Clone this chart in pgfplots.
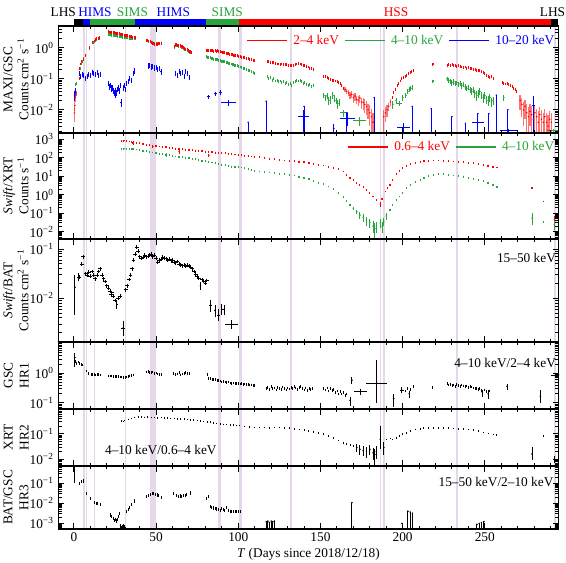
\documentclass[border=0pt]{standalone}
\usepackage{fontspec}
\setmainfont{Liberation Serif}
\usepackage{pgfplots}
\pgfplotsset{compat=1.18}
\definecolor{bandc}{RGB}{230,216,234}
\definecolor{cred}{RGB}{255,0,0}
\definecolor{cgreen}{RGB}{40,165,60}
\definecolor{cblue}{RGB}{0,0,255}
\newcommand{\bands}{%
\addplot[fill=bandc, draw=none, forget plot] coordinates {(5.3,1e-5)(5.3,1e5)(6.5,1e5)(6.5,1e-5)};
\addplot[fill=bandc, draw=none, forget plot] coordinates {(7.3,1e-5)(7.3,1e5)(8.1,1e5)(8.1,1e-5)};
\addplot[fill=bandc, draw=none, forget plot] coordinates {(12.1,1e-5)(12.1,1e5)(13,1e5)(13,1e-5)};
\addplot[fill=bandc, draw=none, forget plot] coordinates {(30.9,1e-5)(30.9,1e5)(31.7,1e5)(31.7,1e-5)};
\addplot[fill=bandc, draw=none, forget plot] coordinates {(46.5,1e-5)(46.5,1e5)(49.8,1e5)(49.8,1e-5)};
\addplot[fill=bandc, draw=none, forget plot] coordinates {(87.7,1e-5)(87.7,1e5)(89.3,1e5)(89.3,1e-5)};
\addplot[fill=bandc, draw=none, forget plot] coordinates {(100.3,1e-5)(100.3,1e5)(102,1e5)(102,1e-5)};
\addplot[fill=bandc, draw=none, forget plot] coordinates {(131.6,1e-5)(131.6,1e5)(132.8,1e5)(132.8,1e-5)};
\addplot[fill=bandc, draw=none, forget plot] coordinates {(186,1e-5)(186,1e5)(187,1e5)(187,1e-5)};
\addplot[fill=bandc, draw=none, forget plot] coordinates {(188,1e-5)(188,1e5)(189.2,1e5)(189.2,1e-5)};
\addplot[fill=bandc, draw=none, forget plot] coordinates {(232.4,1e-5)(232.4,1e5)(233.7,1e5)(233.7,1e-5)};
\addplot[fill=bandc, draw=none, forget plot] coordinates {(291.9,1e-5)(291.9,1e5)(293.1,1e5)(293.1,1e-5)};
}
\begin{document}
\begin{tikzpicture}
\path[use as bounding box] (0pt,0pt) rectangle (424.5pt,-421.5pt);

% ---------- state bar ----------
\begin{axis}[at={(43.725pt,-13.875pt)}, anchor=north west, scale only axis, width=375.3pt, height=5.625pt,
  xmin=-9.5, xmax=295, ymin=0, ymax=1, hide axis, clip=false]
\addplot[fill=black, draw=none] coordinates {(0,0)(0,1)(5.5,1)(5.5,0)};
\addplot[fill=cblue, draw=none] coordinates {(5.5,0)(5.5,1)(9.8,1)(9.8,0)};
\addplot[fill=cgreen, draw=none] coordinates {(9.8,0)(9.8,1)(37,1)(37,0)};
\addplot[fill=cblue, draw=none] coordinates {(37,0)(37,1)(80.5,1)(80.5,0)};
\addplot[fill=cgreen, draw=none] coordinates {(80.5,0)(80.5,1)(100.6,1)(100.6,0)};
\addplot[fill=cred, draw=none] coordinates {(100.6,0)(100.6,1)(290.4,1)(290.4,0)};
\addplot[fill=black, draw=none] coordinates {(290.4,0)(290.4,1)(294.4,1)(294.4,0)};
\node[anchor=base, inner sep=0pt] at (axis cs:-6.5,1.25) {LHS};
\node[anchor=base, inner sep=0pt, text=cblue] at (axis cs:12.8,1.25) {HIMS};
\node[anchor=base, inner sep=0pt, text=cgreen] at (axis cs:35.6,1.25) {SIMS};
\node[anchor=base, inner sep=0pt, text=cblue] at (axis cs:60.5,1.25) {HIMS};
\node[anchor=base, inner sep=0pt, text=cgreen] at (axis cs:93.3,1.25) {SIMS};
\node[anchor=base, inner sep=0pt, text=cred] at (axis cs:196,1.25) {HSS};
\node[anchor=base, inner sep=0pt] at (axis cs:291.2,1.25) {LHS};
\end{axis}

% ---------- Panel 1: MAXI/GSC ----------
\begin{axis}[at={(43.725pt,-19.5pt)}, anchor=north west, scale only axis, width=375.3pt, height=80.25pt,
  xmin=-9.5, xmax=295, ymode=log, ymin=1.8e-3, ymax=5,
  xtick={0,50,100,150,200,250},
  minor xtick={-10,10,20,30,40,60,70,80,90,110,120,130,140,160,170,180,190,210,220,230,240,260,270,280,290},
  xticklabels={}, tick align=inside, xtick pos=both, ytick pos=both,
  major tick length=4.5pt, minor tick length=2.5pt, axis line style={line width=0.9pt},
  every tick/.append style={black, line width=0.7pt}, axis on top,
  ylabel style={at={(axis description cs:-0.05,0.5)}, anchor=south, align=center},
  minor ytick={2e-4,3e-4,4e-4,5e-4,6e-4,7e-4,8e-4,9e-4,2e-3,3e-3,4e-3,5e-3,6e-3,7e-3,8e-3,9e-3,0.02,0.03,0.04,0.05,0.06,0.07,0.08,0.09,0.2,0.3,0.4,0.5,0.6,0.7,0.8,0.9,2,3,4,5,6,7,8,9},
  ytick={0.01,0.1,1},
  yticklabels={10\textsuperscript{−2},10\textsuperscript{−1},10\textsuperscript{0}},
  ylabel={MAXI/GSC\\Counts cm\textsuperscript{2} s\textsuperscript{−1}},
  legend style={draw=none, fill=none, at={(0.997,0.945)}, anchor=north east, inner sep=0pt, column sep=2pt},
  legend columns=3,
  legend image code/.code={\draw[#1] (0pt,0pt) -- (30pt,0pt);}]
\bands
\addlegendimage{draw=cred, line width=1.1pt}\addlegendentry{\textcolor{cred}{2--4 keV}}
\addlegendimage{draw=cgreen, line width=1.1pt}\addlegendentry{\textcolor{cgreen}{4--10 keV}}
\addlegendimage{draw=cblue, line width=1.1pt}\addlegendentry{\textcolor{cblue}{10--20 keV}}
% green 4-10 keV
\addplot[cgreen, only marks, mark=|, mark size=1.1pt, line width=0.5pt, forget plot] coordinates {(1.0,0.064)(1.5,0.07)(3.2,0.15)(3.7,0.22)(4.3,0.3)(5.0,0.36)(5.7,0.45)(7.2,0.58)(9.6,0.95)(11.6,1.45)(12.4,1.6)(13.1,1.75)(13.9,1.9)(14.7,2.0)(15.5,2.05)
(20.8,2.7)(21.5,2.65)(22.2,2.6)(23,2.55)(23.7,2.5)(24.5,2.45)(25.2,2.45)(26,2.4)(26.7,2.35)(27.5,2.3)(28.2,2.3)(29,2.25)(29.7,2.2)(30.5,2.2)(31.2,2.15)(32,2.1)(32.7,2.1)(33.5,2.05)(34.2,2.05)(35,2.0)(35.7,2.0)(36.5,2.0)(37.2,1.98)
(44,1.7)(44.8,1.65)(45.5,1.6)(46.3,1.55)(47,1.5)(47.8,1.45)(48.5,1.4)(49.2,1.38)(50,1.35)(50.7,1.35)(51.5,1.37)(52.2,1.38)(53,1.42)
(61,1.05)(61.7,1.15)(62.4,1.2)(63.1,1.15)(63.8,1.1)(64.5,1.12)(65.2,1.05)(66,1.0)(66.7,0.95)(67.4,0.9)(68.1,0.85)(68.8,0.8)(69.5,0.76)(70.2,0.72)(71,0.7)(71.7,0.68)
(80.5,0.51)(81.3,0.5)(82,0.48)(82.8,0.47)(83.5,0.46)(84.3,0.45)(85,0.43)(85.8,0.42)(86.5,0.42)(87.3,0.41)(88,0.4)(88.8,0.38)(89.5,0.37)(90.3,0.37)(91,0.36)(91.8,0.35)(92.5,0.34)(93.3,0.33)(94,0.32)(94.8,0.31)(95.5,0.3)(96.3,0.29)(97,0.28)(97.8,0.27)(98.5,0.27)(99.3,0.26)(100,0.25)(101,0.24)(102,0.23)(103,0.22)(104,0.21)(105,0.2)(106,0.19)(107,0.18)(108,0.17)(109,0.16)(110,0.15)
(117.5,0.12)(118.5,0.1)(119.5,0.11)(120.5,0.09)(121.5,0.1)(122.5,0.085)(123.5,0.09)(124.5,0.08)(125.5,0.085)(126.5,0.075)(127.5,0.08)(128.5,0.07)(129.5,0.075)(130.5,0.065)(131.5,0.07)(132.5,0.06)(133.5,0.075)(134.5,0.08)(135.5,0.09)(136.5,0.085)(137.5,0.09)(138.5,0.08)(139.5,0.07)(140.5,0.075)(141.5,0.065)(142.5,0.06)(143.5,0.065)(144.5,0.055)(145.5,0.06)
(218.4,0.08)(218.8,0.085)};
\addplot[cgreen, only marks, mark=*, mark size=0.3pt, forget plot, error bars/.cd, x dir=both, x explicit, y dir=both, y explicit, error mark=none, error bar style={line width=0.6pt}] table[x=x,y=y,x error=ex,y error plus=ep,y error minus=em] {
x y ex ep em
152 0.03 0.01 0.006 0.006
153 0.025 0.01 0.006 0.006
154 0.028 0.01 0.006 0.006
155 0.02 0.01 0.006 0.006
156 0.022 0.01 0.006 0.006
157.5 0.03 0.01 0.008 0.008
158.5 0.024 0.01 0.006 0.006
159.5 0.02 0.01 0.005 0.005
160.5 0.016 0.01 0.005 0.005
161.5 0.018 0.01 0.005 0.005
164 0.008 2 0.002 0.002
174 0.0045 4 0.0015 0.0015
194 0.015 0.01 0.004 0.004
196 0.02 0.01 0.004 0.004
198 0.016 1.5 0.003 0.003
200 0.025 0.01 0.005 0.005
202 0.03 0.01 0.006 0.006
203 0.04 0.01 0.008 0.008
204 0.045 0.01 0.008 0.008
205 0.05 0.01 0.008 0.008
206 0.055 0.01 0.01 0.01
227 0.1 0.01 0.015 0.015
228 0.09 0.01 0.015 0.015
229 0.085 0.01 0.015 0.015
230 0.075 0.01 0.015 0.015
231 0.08 0.01 0.015 0.015
232 0.07 0.01 0.012 0.012
233 0.075 0.01 0.012 0.012
234 0.065 0.01 0.012 0.012
235 0.07 0.01 0.012 0.012
236 0.06 0.01 0.012 0.012
237 0.065 0.01 0.012 0.012
238 0.055 0.01 0.012 0.012
239 0.05 0.01 0.01 0.01
240 0.055 0.01 0.01 0.01
241 0.045 0.01 0.01 0.01
242 0.04 0.01 0.01 0.01
243 0.045 0.01 0.01 0.01
244 0.035 0.01 0.01 0.01
245 0.03 0.01 0.01 0.01
246 0.035 0.01 0.01 0.01
247 0.04 0.01 0.01 0.01
248 0.03 0.01 0.008 0.008
249 0.025 0.01 0.008 0.008
250 0.03 0.01 0.008 0.008
251 0.022 0.01 0.007 0.007
252 0.02 0.01 0.007 0.007
253 0.025 0.01 0.007 0.007
254 0.018 0.01 0.006 0.006
255 0.02 0.01 0.006 0.006
261.5 0.025 0.01 0.005 0.005
292 0.0022 4 0.0003 0.0003
};
% red 2-4 keV
\addplot[cred, only marks, mark=|, mark size=1.1pt, line width=0.5pt, forget plot] coordinates {(3.0,0.1)(3.5,0.22)(4.2,0.3)(4.8,0.35)(5.5,0.42)(7.0,0.55)(9.5,1.0)(11.5,1.5)(12.3,1.65)(13.0,1.8)(13.8,1.95)(14.6,2.05)(15.4,2.15)
(20.8,3.25)(21.5,3.2)(22.2,3.15)(23,3.1)(23.7,3.05)(24.5,3.0)(25.2,2.95)(26,2.9)(26.7,2.85)(27.5,2.8)(28.2,2.75)(29,2.7)(29.7,2.6)(30.5,2.55)(31.2,2.5)(32,2.45)(32.7,2.4)(33.5,2.35)(34.2,2.3)(35,2.25)(35.7,2.2)(36.5,2.15)(37.2,2.1)
(44,1.75)(44.8,1.7)(45.5,1.65)(46.3,1.55)(47,1.5)(47.8,1.4)(48.5,1.35)(49.2,1.3)(50,1.28)(50.7,1.3)(51.5,1.33)(52.2,1.35)(53,1.4)
(61,1.1)(61.7,1.25)(62.4,1.3)(63.1,1.22)(63.8,1.15)(64.5,1.2)(65.2,1.12)(66,1.08)(66.7,1.0)(67.4,0.95)(68.1,0.9)(68.8,0.85)(69.5,0.8)(70.2,0.77)(71,0.74)(71.7,0.72)
(80.5,0.83)(81.3,0.8)(82,0.81)(82.8,0.82)(83.5,0.79)(84.3,0.8)(85,0.78)(85.8,0.8)(86.5,0.78)(87.3,0.79)(88,0.76)(88.8,0.77)(89.5,0.73)(90.3,0.72)(91,0.7)(91.8,0.68)(92.5,0.67)(93.3,0.65)(94,0.64)(94.8,0.62)(95.5,0.61)(96.3,0.6)(97,0.58)(97.8,0.57)(98.5,0.56)(99.3,0.55)(100,0.54)(101,0.52)(102,0.5)(103,0.49)(104,0.48)(105,0.46)(106,0.44)(107,0.43)(108,0.41)(109,0.39)(110,0.38)
(117.5,0.36)(118.5,0.35)(119.5,0.34)(120.5,0.33)(121.5,0.33)(122.5,0.31)(123.5,0.3)(124.5,0.3)(125.5,0.29)(126.5,0.3)(127.5,0.29)(128.5,0.28)(129.5,0.28)(130.5,0.27)(131.5,0.27)(132.5,0.26)(133.5,0.27)(134.5,0.28)(135.5,0.3)(136.5,0.31)(137.5,0.3)(138.5,0.28)(139.5,0.27)(140.5,0.26)(141.5,0.25)(142.5,0.24)(143.5,0.22)(144.5,0.21)(145.5,0.2)
(152,0.12)(153,0.115)(154,0.11)(155,0.1)(156,0.095)(157,0.09)(158,0.088)(159,0.085)(160,0.08)(161,0.075)(162,0.07)(163,0.06)(164,0.05)
(193.5,0.025)(194.5,0.035)(195.5,0.045)(196.5,0.06)(197.5,0.07)(198.5,0.085)(199.5,0.1)(200.5,0.11)(201.5,0.12)(202.5,0.13)(203.5,0.15)(204.5,0.16)(205.5,0.17)(206.5,0.19)
(218.4,0.28)(218.8,0.3)
(227,0.26)(228,0.28)(229,0.27)(230,0.28)(231,0.27)(232,0.26)(233,0.25)(234,0.26)(235,0.25)(236,0.24)(237,0.23)(238,0.24)(239,0.22)(240,0.23)(241,0.22)(242,0.21)(243,0.2)(244,0.2)(245,0.19)(246,0.18)(247,0.19)(248,0.17)(249,0.16)(250,0.15)(251,0.13)(252,0.12)(253,0.11)(254,0.12)(255,0.1)
(260.5,0.075)(261.5,0.07)(262.5,0.068)(263.5,0.07)(264.5,0.065)(265.5,0.06)(266.5,0.055)(267.5,0.05)(268.5,0.045)(269.5,0.04)};
\addplot[cred, only marks, mark=*, mark size=0.3pt, forget plot, error bars/.cd, x dir=both, x explicit, y dir=both, y explicit, error mark=none, error bar style={line width=0.9pt, opacity=0.55}] table[x=x,y=y,x error=ex,y error plus=ep,y error minus=em] {
x y ex ep em
0.3 0.008 0.01 0.004 0.004
0.5 0.014 0.01 0.005 0.005
0.8 0.025 0.01 0.007 0.007
1.1 0.032 0.01 0.006 0.006
1.4 0.035 0.01 0.006 0.006
165 0.045 0.01 0.008 0.008
166 0.04 0.01 0.008 0.008
167 0.035 0.01 0.008 0.008
168 0.03 0.01 0.008 0.008
169 0.032 0.01 0.008 0.008
170 0.025 0.01 0.008 0.008
171 0.028 0.01 0.008 0.008
172 0.022 0.01 0.007 0.007
173 0.02 0.01 0.007 0.007
174 0.024 0.01 0.007 0.007
175 0.018 0.01 0.007 0.007
176 0.017 0.01 0.007 0.007
177 0.015 0.01 0.007 0.007
178 0.013 0.01 0.007 0.006
179 0.01 0.01 0.006 0.005
180 0.008 0.01 0.006 0.005
181 0.006 0.01 0.005 0.004
182 0.004 0.01 0.004 0.003
188.5 0.006 0.01 0.004 0.004
189.5 0.008 0.01 0.004 0.004
190.5 0.01 0.01 0.004 0.004
191.5 0.013 0.01 0.004 0.004
192.5 0.018 0.01 0.005 0.005
271.5 0.02 0.01 0.01 0.01
272.5 0.015 0.01 0.01 0.009
273.5 0.01 0.01 0.008 0.007
274.5 0.013 0.01 0.008 0.008
275.5 0.008 0.01 0.007 0.006
276.5 0.006 0.01 0.006 0.005
277.5 0.009 0.01 0.007 0.006
278.5 0.007 0.01 0.006 0.005
279.5 0.005 0.01 0.005 0.004
280.5 0.008 0.01 0.006 0.006
281.5 0.006 0.01 0.005 0.005
282.5 0.004 0.01 0.005 0.003
283.5 0.007 0.01 0.005 0.005
284.5 0.005 0.01 0.005 0.004
285.5 0.004 0.01 0.004 0.003
286.5 0.006 0.01 0.005 0.005
287.5 0.004 0.01 0.004 0.003
288.5 0.003 0.01 0.004 0.002
289.5 0.005 0.01 0.004 0.004
290.5 0.004 0.01 0.004 0.003
};
% blue 10-20 keV
\addplot[cblue, only marks, mark=|, mark size=2pt, line width=0.5pt, forget plot] coordinates {(3,0.15)(4,0.12)(5,0.14)(6,0.13)(7,0.1)(8,0.12)(9,0.14)(10,0.13)(11,0.16)(12,0.15)(13,0.14)(14,0.16)(15,0.13)(16,0.14)
(21,0.07)(21.5,0.055)(22,0.06)(22.5,0.05)(23,0.045)(23.5,0.05)(24,0.04)(24.5,0.035)(25,0.042)(25.5,0.03)(26,0.035)(26.5,0.045)(27,0.05)(27.5,0.04)(28,0.06)
(30,0.05)(30.5,0.06)(31,0.045)(32,0.07)(33,0.08)(34,0.1)(35,0.09)(36,0.15)(37,0.18)
(45,0.26)(46,0.27)(47,0.24)(48,0.25)(49,0.22)(50,0.23)(51,0.2)(52,0.21)
(62,0.15)(63,0.13)(64,0.17)(65,0.15)(66,0.16)(67,0.12)(68,0.17)(69,0.15)(70,0.11)};
\addplot[cblue, only marks, mark=*, mark size=0.3pt, forget plot, error bars/.cd, x dir=both, x explicit, y dir=both, y explicit, error mark=none, error bar style={line width=0.6pt}] table[x=x,y=y,x error=ex,y error plus=ep,y error minus=em] {
x y ex ep em
0.4 0.03 0.01 0.012 0.01
0.8 0.04 0.01 0.01 0.01
28.7 0.017 0.7 0.006 0.005
53 0.17 0.5 0.04 0.04
82 0.027 1 0.004 0.004
86 0.033 1 0.005 0.005
89 0.037 1 0.006 0.006
94 0.017 4.5 0.004 0.004
106 0.004 0.01 0.0001 0.003
117 0.019 0.01 0.0001 0.0175
139.7 0.006 3.5 0.004 0.004
140 0.013 0.01 0.0001 0.0115
158 0.0025 0.01 0.001 0.001
166.5 0.0055 4.5 0.0025 0.0025
166 0.008 0.01 0.0001 0.0065
182.7 0.025 0.01 0.0001 0.0235
200.7 0.0027 4 0.001 0.001
205.8 0.013 0.01 0.0001 0.0115
217.4 0.011 0.01 0.0001 0.0095
230 0.006 0.01 0.0001 0.0045
238.2 0.0037 0.01 0.0001 0.0025
245.8 0.004 3.5 0.001 0.001
245.8 0.0075 0.01 0.0001 0.006
252.3 0.0075 0.01 0.0001 0.006
257 0.03 0.01 0.0001 0.0285
264.5 0.0022 5 0.0003 0.0003
264 0.01 0.01 0.0001 0.0085
279.6 0.0135 1 0.0135 0.012
};
\end{axis}

% ---------- Panel 2: Swift/XRT ----------
\begin{axis}[at={(43.725pt,-99.75pt)}, anchor=north west, scale only axis, width=375.3pt, height=79.5pt,
  xmin=-9.5, xmax=295, ymode=log, ymin=4e-3, ymax=2200,
  xtick={0,50,100,150,200,250},
  minor xtick={-10,10,20,30,40,60,70,80,90,110,120,130,140,160,170,180,190,210,220,230,240,260,270,280,290},
  xticklabels={}, tick align=inside, xtick pos=both, ytick pos=both,
  major tick length=4.5pt, minor tick length=2.5pt, axis line style={line width=0.9pt},
  every tick/.append style={black, line width=0.7pt}, axis on top,
  ylabel style={at={(axis description cs:-0.05,0.5)}, anchor=south, align=center},
  minor ytick={2e-3,3e-3,4e-3,5e-3,6e-3,7e-3,8e-3,9e-3,0.02,0.03,0.04,0.05,0.06,0.07,0.08,0.09,0.2,0.3,0.4,0.5,0.6,0.7,0.8,0.9,2,3,4,5,6,7,8,9,20,30,40,50,60,70,80,90,200,300,400,500,600,700,800,900,2000},
  ytick={0.01,0.1,1,10,100,1000},
  yticklabels={10\textsuperscript{−2},10\textsuperscript{−1},10\textsuperscript{0},10\textsuperscript{1},10\textsuperscript{2},10\textsuperscript{3}},
  ylabel={\textit{Swift}/XRT\\Counts s\textsuperscript{−1}},
  legend style={draw=none, fill=none, at={(0.997,0.95)}, anchor=north east, inner sep=0pt, column sep=2pt},
  legend columns=2,
  legend image code/.code={\draw[#1] (0pt,0pt) -- (30pt,0pt);}]
\bands
\addlegendimage{draw=cred, line width=1.1pt}\addlegendentry{\textcolor{cred}{0.6--4 keV}}
\addlegendimage{draw=cgreen, line width=1.1pt}\addlegendentry{\textcolor{cgreen}{4--10 keV}}
\addplot[cred, only marks, mark=|, mark size=0.7pt, line width=0.9pt, forget plot] coordinates {(29,840)(30,820)(31,860)(32,800)(34,760)(35,720)(36,660)(38,640)(40,600)(42,560)(44,520)(46,490)(48,460)(50,435)(52,410)(54,390)(56,370)(58,345)(60,325)(62,310)(64,300)(66,285)(68,275)(70,265)(72,255)(74,240)(76,230)(78,222)(80,215)(82,205)(84,198)(86,190)(88,185)(90,180)(92,175)(94,168)(96,160)(98,152)(100,145)(102,140)(104,130)(106,122)(108,118)(110,112)(113,106)(116,98)(119,90)(122,82)(125,76)(128,72)(131,68)(134,65)(137,62)(140,57)(143,52)(146,47)(149,42)(152,38)(155,33)(158,29)(161,24)(164,18)(166,12)(168,7.8)(170,6)(172,4.5)(174,3.4)(176,2.6)(178,1.8)(180,1.2)(182,0.8)(184,0.5)(187.5,0.6)(189.4,1.5)(191,2.4)(192.4,3.4)(194,6)(196.5,14)(198,20)(200,27)(202.6,36)(205,45)(208,55)(210.7,62)(213,66)(216,70)(219,72)(222,71)(225,70)(228,67)(231,63)(234,60)(237,57)(240,54)(243,50)(246,45)(249,40)(252,36)(255,33)(257.4,30)(278.7,2.2)(285.8,0.43)};
\addplot[cred, only marks, mark=*, mark size=0.3pt, forget plot, error bars/.cd, x dir=both, x explicit, y dir=both, y explicit, error mark=none, error bar style={line width=0.6pt}] table[x=x,y=y,x error=ex,y error plus=ep,y error minus=em] {
x y ex ep em
36 660 0.01 150 150
48 400 0.01 80 80
64 220 0.01 50 50
82 140 0.01 30 30
186.4 0.31 0.01 0.1 0.1
292.3 0.044 0.01 0.03 0.02
};
\addplot[cgreen, only marks, mark=|, mark size=0.7pt, line width=0.9pt, forget plot] coordinates {(29,300)(30,290)(31,320)(32,300)(34,290)(35,300)(36,310)(38,280)(40,260)(42,240)(44,225)(46,210)(48,195)(50,178)(52,165)(54,155)(56,145)(58,135)(60,126)(62,118)(64,112)(66,106)(68,100)(70,95)(72,88)(74,82)(76,76)(78,70)(80,64)(82,60)(84,56)(86,52)(88,47)(90,43)(92,40)(94,37)(96,33)(98,31)(100,32)(102,30)(104,27)(106,24)(108,22)(110,20)(113,18)(116,17)(119,16)(122,15)(125,14)(128,13)(131,12)(134,11)(137,9.6)(140,8.5)(143,7)(146,5.8)(149,4.5)(152,3.7)(155,2.8)(158,2)(161,1.2)(164,0.75)(166,0.45)(168,0.28)(192.4,0.15)(194,0.28)(196.5,0.52)(198,0.8)(200,1.3)(202.6,2.2)(205,3.5)(208,5)(210.7,6.3)(213,8.5)(216,10.5)(219,12)(222,13)(225,13)(228,12)(231,11)(234,10)(237,9.5)(240,8.5)(243,7.5)(246,6.5)(249,5.5)(252,4.5)(255,3.5)(257.4,2.7)(285.8,0.035)};
\addplot[cgreen, only marks, mark=*, mark size=0.3pt, forget plot, error bars/.cd, x dir=both, x explicit, y dir=both, y explicit, error mark=none, error bar style={line width=0.6pt}] table[x=x,y=y,x error=ex,y error plus=ep,y error minus=em] {
x y ex ep em
56 145 0.01 35 35
170 0.18 0.01 0.03 0.03
172 0.12 0.01 0.03 0.03
174 0.08 0.01 0.03 0.03
176 0.06 0.01 0.03 0.025
178 0.04 0.01 0.025 0.02
180 0.03 0.01 0.02 0.015
182 0.02 0.01 0.02 0.012
183 0.015 0.01 0.015 0.011
184 0.02 0.01 0.015 0.012
186.4 0.03 0.01 0.02 0.015
187.5 0.02 0.01 0.015 0.012
188.4 0.035 0.01 0.02 0.015
190 0.07 0.01 0.03 0.025
278.7 0.054 0.01 0.05 0.03
292.3 0.025 0.01 0.02 0.012
};
\end{axis}

% ---------- Panel 3: Swift/BAT ----------
\begin{axis}[at={(43.725pt,-179.25pt)}, anchor=north west, scale only axis, width=375.3pt, height=77.25pt,
  xmin=-9.5, xmax=295, ymode=log, ymin=1.3e-3, ymax=0.16,
  xtick={0,50,100,150,200,250},
  minor xtick={-10,10,20,30,40,60,70,80,90,110,120,130,140,160,170,180,190,210,220,230,240,260,270,280,290},
  xticklabels={}, tick align=inside, xtick pos=both, ytick pos=both,
  major tick length=4.5pt, minor tick length=2.5pt, axis line style={line width=0.9pt},
  every tick/.append style={black, line width=0.7pt}, axis on top,
  ylabel style={at={(axis description cs:-0.05,0.5)}, anchor=south, align=center},
  minor ytick={2e-3,3e-3,4e-3,5e-3,6e-3,7e-3,8e-3,9e-3,0.02,0.03,0.04,0.05,0.06,0.07,0.08,0.09},
  ytick={0.01,0.1},
  yticklabels={10\textsuperscript{−2},10\textsuperscript{−1}},
  ylabel={\textit{Swift}/BAT\\Counts cm\textsuperscript{2} s\textsuperscript{−1}}]
\bands
\addplot[black, only marks, mark=+, mark size=1.4pt, line width=0.5pt, forget plot] coordinates {(3,0.027)(4.7,0.049)(5.7,0.07)(7,0.032)(8,0.03)(9,0.034)(10,0.028)(11,0.035)(12,0.03)(13,0.025)(14,0.03)(15,0.035)(16,0.04)(17,0.03)(18,0.025)(19,0.022)(20,0.018)(21,0.016)(22,0.014)(22.5,0.012)(23,0.013)(24,0.011)(25,0.009)(27,0.01)(28,0.011)
(31.5,0.015)(32.5,0.018)(33.5,0.024)(34.5,0.03)(35.5,0.04)(36.3,0.06)(37.3,0.08)(38.2,0.11)(39.2,0.09)(40,0.07)(41,0.065)(42,0.068)(43,0.075)(44,0.07)(45,0.072)(46,0.075)(47,0.08)(48,0.07)(49,0.075)(50,0.065)(51,0.055)(52,0.06)(53,0.063)(54,0.068)(55,0.066)(56,0.064)(57,0.06)(58,0.062)(59,0.058)(60,0.06)(61,0.055)(62,0.053)(63,0.056)(64,0.05)(65,0.048)(66,0.046)(67,0.047)(68,0.045)(69,0.047)(70,0.045)(71,0.043)(72,0.04)(73,0.035)(74,0.031)(75,0.028)(76,0.026)(78,0.024)(79,0.022)(80,0.02)(80.8,0.023)};
\addplot[black, only marks, mark=*, mark size=0.3pt, forget plot, error bars/.cd, x dir=both, x explicit, y dir=both, y explicit, error mark=none, error bar style={line width=0.6pt}] table[x=x,y=y,x error=ex,y error plus=ep,y error minus=em] {
x y ex ep em
0.6 0.017 0.01 0.013 0.0124
3 0.027 0.01 0.005 0.005
26 0.0075 0.5 0.0015 0.0015
30 0.0025 1.2 0.0009 0.0008
77 0.018 0.5 0.003 0.003
83.2 0.0073 0.8 0.002 0.002
85.8 0.0057 0.8 0.0015 0.0015
88 0.0046 0.8 0.0015 0.0012
90 0.006 0.8 0.0018 0.0015
91.4 0.006 0.8 0.0015 0.0015
96 0.003 4 0.0006 0.0006
};
\node[anchor=east, inner sep=0pt] at (rel axis cs:0.995,0.816) {15--50 keV};
\end{axis}

% ---------- Panel 4: GSC HR1 ----------
\begin{axis}[at={(43.725pt,-256.5pt)}, anchor=north west, scale only axis, width=375.3pt, height=50.25pt,
  xmin=-9.5, xmax=295, ymode=log, ymin=0.061, ymax=11.6,
  xtick={0,50,100,150,200,250},
  minor xtick={-10,10,20,30,40,60,70,80,90,110,120,130,140,160,170,180,190,210,220,230,240,260,270,280,290},
  xticklabels={}, tick align=inside, xtick pos=both, ytick pos=both,
  major tick length=4.5pt, minor tick length=2.5pt, axis line style={line width=0.9pt},
  every tick/.append style={black, line width=0.7pt}, axis on top,
  ylabel style={at={(axis description cs:-0.05,0.5)}, anchor=south, align=center},
  minor ytick={0.07,0.08,0.09,0.2,0.3,0.4,0.5,0.6,0.7,0.8,0.9,2,3,4,5,6,7,8,9,10},
  ytick={0.1,1},
  yticklabels={10\textsuperscript{−1},10\textsuperscript{0}},
  ylabel={GSC\\HR1}]
\bands
\addplot[black, only marks, mark=|, mark size=1pt, line width=0.5pt, forget plot] coordinates {(1,2.5)(1.5,2.2)(2.5,2.4)(3.6,2.2)(4.5,2.0)(5.3,1.9)(7.3,1.2)(8.7,1.0)(10.7,0.92)(11.5,0.9)(12.5,0.92)(13.3,0.88)(14.2,0.9)(15,0.9)(15.8,0.88)
(21,0.82)(22,0.8)(23,0.8)(24,0.79)(25,0.78)(26,0.77)(27,0.76)(28,0.75)(29,0.74)(30,0.73)(31,0.73)(32,0.75)(33,0.77)(34,0.8)(35,0.83)(36,0.88)
(44,1.1)(45,1.15)(46,1.08)(47,1.05)(48,1.1)(49,1.0)(50,1.02)(51,0.95)(52,0.92)(53,0.9)
(60.5,1.0)(62,0.9)(63,0.95)(64,1.05)(65,0.88)(66,0.95)(67,1.0)(68,1.08)(69,0.98)(70.5,1.0)
(81,0.9)(82,0.68)(83,0.65)(84,0.62)(85,0.6)(86,0.62)(87,0.58)(88,0.56)(89,0.55)(90,0.5)(91,0.52)(92,0.5)(93,0.48)(94,0.5)(95,0.47)(96,0.46)(97,0.47)(98,0.45)(99,0.44)(100,0.45)(101,0.43)(102,0.44)(103,0.42)(104,0.43)(105,0.41)(106,0.42)(107,0.4)(108,0.4)(109,0.38)(110,0.39)
(117,0.3)(118,0.33)(119,0.28)(120,0.35)(121,0.3)(122,0.32)(123,0.27)(124,0.33)(125,0.3)(126,0.28)(127,0.34)(128,0.3)(129,0.27)(130,0.32)(131,0.29)(132,0.33)(133,0.3)(134,0.35)(135,0.32)(136,0.28)(137,0.33)(138,0.36)(139,0.3)(140,0.27)(141,0.32)(142,0.26)(143,0.3)(144,0.28)(145,0.3)
(152,0.3)(153,0.27)(154,0.32)(155,0.25)(156,0.3)(157,0.26)(158,0.28)(159,0.22)(160,0.25)(161,0.2)(162,0.24)(163,0.2)(164,0.22)(165,0.18)(166,0.2)
(201.5,0.25)(203,0.3)(205,0.28)(206.7,0.36)(218,0.33)
(227,0.45)(228,0.4)(229,0.42)(230,0.38)(231,0.4)(232,0.36)(233,0.42)(234,0.38)(235,0.36)(236,0.4)(237,0.37)(238,0.35)(239,0.37)(240,0.33)(241,0.36)(242,0.34)(243,0.32)(244,0.3)(245,0.31)(246,0.28)(247,0.3)(248,0.26)(250,0.27)(251,0.24)(253,0.25)};
\addplot[black, only marks, mark=*, mark size=0.3pt, forget plot, error bars/.cd, x dir=both, x explicit, y dir=both, y explicit, error mark=none, error bar style={line width=0.6pt}] table[x=x,y=y,x error=ex,y error plus=ep,y error minus=em] {
x y ex ep em
0.5 3.5 0.01 1.5 1.8
168 0.12 0.01 0.04 0.04
169.1 0.59 0.01 0.15 0.15
174.2 0.24 4 0.05 0.05
184.3 0.46 6.5 2.3 0.36
194.5 0.14 0.01 0.06 0.07
199.5 0.27 1.2 0.06 0.06
204 0.2 0.01 0.06 0.06
248.5 0.22 0.01 0.06 0.06
252 0.2 0.01 0.07 0.07
263.5 0.36 0.01 0.08 0.08
283.8 0.16 0.01 0.12 0.06
295 0.88 4.5 1.3 0.82
};
\node[anchor=east, inner sep=0pt] at (rel axis cs:0.995,0.687) {4--10 keV/2--4 keV};
\end{axis}

% ---------- Panel 5: XRT HR2 ----------
\begin{axis}[at={(43.725pt,-306.75pt)}, anchor=north west, scale only axis, width=375.3pt, height=42.75pt,
  xmin=-9.5, xmax=295, ymode=log, ymin=5.4e-3, ymax=0.97,
  xtick={0,50,100,150,200,250},
  minor xtick={-10,10,20,30,40,60,70,80,90,110,120,130,140,160,170,180,190,210,220,230,240,260,270,280,290},
  xticklabels={}, tick align=inside, xtick pos=both, ytick pos=both,
  major tick length=4.5pt, minor tick length=2.5pt, axis line style={line width=0.9pt},
  every tick/.append style={black, line width=0.7pt}, axis on top,
  ylabel style={at={(axis description cs:-0.05,0.5)}, anchor=south, align=center},
  minor ytick={6e-3,7e-3,8e-3,9e-3,0.02,0.03,0.04,0.05,0.06,0.07,0.08,0.09,0.2,0.3,0.4,0.5,0.6,0.7,0.8,0.9},
  ytick={0.01,0.1},
  yticklabels={10\textsuperscript{−2},10\textsuperscript{−1}},
  ylabel={XRT\\HR2}]
\bands
\addplot[black, only marks, mark=|, mark size=0.6pt, line width=0.7pt, forget plot] coordinates {(29,0.33)(30,0.31)(31,0.34)(33,0.38)(35,0.41)(37,0.45)(39,0.47)(41,0.46)(43,0.45)(45,0.46)(47,0.44)(49,0.45)(51,0.43)(53,0.44)(55,0.42)(57,0.43)(59,0.41)(61,0.41)(63,0.4)(65,0.39)(67,0.39)(69,0.37)(71,0.36)(73,0.35)(75,0.34)(77,0.33)(79,0.31)(81,0.3)(83,0.29)(85,0.27)(87,0.26)(89,0.25)(91,0.24)(93,0.24)(95,0.23)(97,0.23)(99,0.22)(101,0.22)(104,0.2)(107,0.19)(110,0.18)(113,0.18)(116,0.18)(119,0.17)(122,0.18)(125,0.18)(128,0.17)(131,0.17)(134,0.16)(137,0.15)(140,0.14)(143,0.13)(146,0.12)(149,0.11)(152,0.1)(155,0.085)(158,0.07)(161,0.055)(164,0.045)(166,0.04)(168,0.036)(170,0.033)
(190,0.06)(192.4,0.065)(194,0.06)(196.5,0.07)(198,0.085)(200,0.1)(202.6,0.11)(205,0.13)(208,0.15)(210.7,0.16)(213,0.17)(216,0.17)(219,0.17)(222,0.17)(225,0.17)(228,0.17)(231,0.165)(234,0.16)(237,0.155)(240,0.15)(243,0.14)(246,0.13)(249,0.115)(252,0.105)(255,0.095)(257.4,0.09)(285.8,0.085)};
\addplot[black, only marks, mark=*, mark size=0.3pt, forget plot, error bars/.cd, x dir=both, x explicit, y dir=both, y explicit, error mark=none, error bar style={line width=0.6pt}] table[x=x,y=y,x error=ex,y error plus=ep,y error minus=em] {
x y ex ep em
172 0.03 0.01 0.01 0.01
174 0.025 0.01 0.01 0.01
176 0.022 0.01 0.01 0.009
178 0.02 0.01 0.01 0.009
180 0.025 0.01 0.012 0.01
182 0.018 0.01 0.01 0.009
183 0.015 0.01 0.01 0.011
184 0.02 0.01 0.012 0.01
186.4 0.06 0.01 0.14 0.035
188.4 0.03 0.01 0.02 0.015
278.7 0.016 0.01 0.014 0.007
292.3 0.01 0.01 0.004 0.003
};
\node[inner sep=0pt] at (rel axis cs:0.205,0.28) {4--10 keV/0.6--4 keV};
\end{axis}

% ---------- Panel 6: BAT/GSC HR3 ----------
\begin{axis}[at={(43.725pt,-349.5pt)}, anchor=north west, scale only axis, width=375.3pt, height=47.25pt,
  xmin=-9.5, xmax=295, ymode=log, ymin=5.2e-4, ymax=0.73,
  xtick={0,50,100,150,200,250},
  minor xtick={-10,10,20,30,40,60,70,80,90,110,120,130,140,160,170,180,190,210,220,230,240,260,270,280,290},
  xticklabels={0,50,100,150,200,250}, tick align=inside, xtick pos=both, ytick pos=both,
  major tick length=4.5pt, minor tick length=2.5pt, axis line style={line width=0.9pt},
  every tick/.append style={black, line width=0.7pt}, axis on top,
  ylabel style={at={(axis description cs:-0.05,0.5)}, anchor=south, align=center},
  minor ytick={6e-4,7e-4,8e-4,9e-4,2e-3,3e-3,4e-3,5e-3,6e-3,7e-3,8e-3,9e-3,0.02,0.03,0.04,0.05,0.06,0.07,0.08,0.09,0.2,0.3,0.4,0.5,0.6,0.7},
  ytick={0.001,0.01,0.1},
  yticklabels={10\textsuperscript{−3},10\textsuperscript{−2},10\textsuperscript{−1}},
  ylabel={BAT/GSC\\HR3},
  xticklabel style={anchor=base, yshift=-9pt},
  xlabel={\textit{T} (Days since 2018/12/18)},
  xlabel style={at={(axis description cs:0.5,0)}, anchor=base, yshift=-21pt}]
\bands
\addplot[black, only marks, mark=|, mark size=1.2pt, line width=0.5pt, forget plot] coordinates {(3.6,0.1)(4.7,0.12)(5.7,0.13)(7.7,0.032)(9.7,0.018)(12.4,0.011)(13.5,0.0095)(14.5,0.01)(15.8,0.009)
(21.9,0.0026)(23,0.0021)(24,0.0017)(24.7,0.0014)(25.4,0.0016)(26,0.0013)(26.4,0.0015)(27,0.0021)(27.6,0.003)
(31.7,0.0038)(33,0.0047)(34,0.0063)(35,0.009)(36.5,0.013)
(44,0.021)(45.5,0.025)(46.5,0.028)(47.5,0.031)(48.5,0.03)(49.5,0.028)(50.5,0.026)(51.5,0.025)(53.4,0.02)
(60.5,0.03)(62.5,0.024)(63.5,0.022)(64.5,0.023)(65.5,0.022)(66.5,0.024)(67.5,0.025)(68.6,0.027)(70.6,0.033)
(80.8,0.018)(81.5,0.021)
(82.8,0.0068)(83.8,0.006)(84.8,0.0058)(85.8,0.0055)(86.8,0.0052)(87.8,0.005)(88.8,0.0045)(89.8,0.0055)(90.8,0.0048)(91.8,0.0042)(92.8,0.006)(93.8,0.0045)
(95,0.0038)(96,0.0038)(97,0.0039)(98,0.0038)(99,0.0038)(100,0.0039)(101,0.0038)};
\addplot[black, only marks, mark=*, mark size=0.3pt, forget plot, error bars/.cd, x dir=both, x explicit, y dir=both, y explicit, error mark=none, error bar style={line width=0.6pt}] table[x=x,y=y,x error=ex,y error plus=ep,y error minus=em] {
x y ex ep em
0 0.56 0.01 0.3 0.46
28.5 0.0007 0.4 0.0002 0.0002
29.3 0.00065 0.4 0.0002 0.0002
30.1 0.0007 0.4 0.0002 0.0002
30.9 0.00065 0.4 0.0002 0.0002
117 0.0012 0.01 0.00001 0.0008
118 0.0013 0.01 0.00001 0.0009
119 0.0011 0.01 0.00001 0.0007
120 0.0013 0.01 0.00001 0.0009
121 0.0012 0.01 0.00001 0.0008
122 0.0013 0.01 0.00001 0.0009
169.1 0.0107 0.01 0.0001 0.0102
199.6 0.001 0.01 0.00001 0.0006
203.2 0.0041 0.01 0.00001 0.0037
204.6 0.0037 0.01 0.00001 0.0033
206 0.0032 0.01 0.00001 0.0028
245.2 0.0009 0.01 0.00001 0.0005
246.6 0.001 0.01 0.00001 0.0006
248 0.0011 0.01 0.00001 0.0007
249.4 0.0012 0.01 0.00001 0.0008
};
\node[anchor=east, inner sep=0pt] at (rel axis cs:0.99,0.746) {15--50 keV/2--10 keV};
\end{axis}
\end{tikzpicture}
\end{document}
